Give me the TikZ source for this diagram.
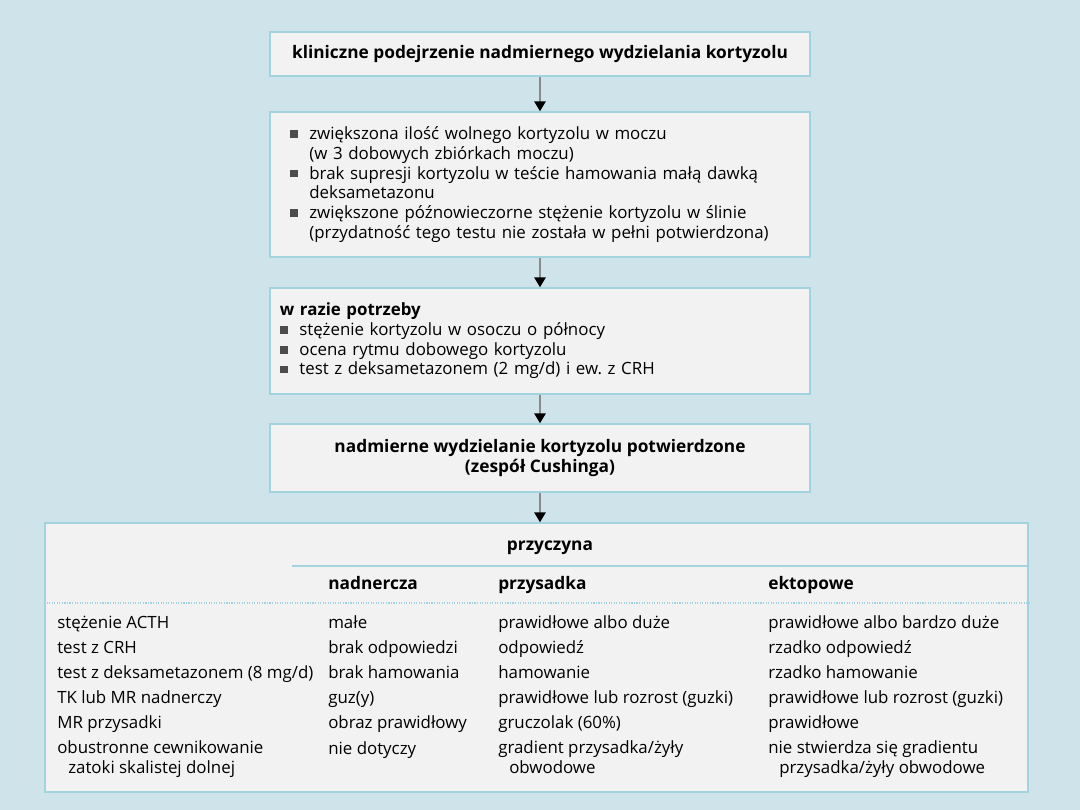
\documentclass[tikz,border=0pt]{standalone}
\usepackage{fontspec}
\setmainfont{Open Sans}
\usepackage{xcolor}
\usetikzlibrary{arrows.meta, positioning}

\definecolor{bgblue}{HTML}{CFE3EA}
\definecolor{boxfill}{HTML}{F2F2F2}
\definecolor{boxline}{HTML}{A3D3DF}
\definecolor{arrgray}{HTML}{8A8A8A}

\newcommand{\sqbul}{\makebox[1.15em][l]{\textcolor{black!70}{\rule[0.1em]{0.45em}{0.45em}}}}
\newcommand{\contind}{\hspace*{1.15em}}

\begin{document}
\begin{tikzpicture}[
    x=0.025cm, y=-0.025cm,
    every node/.style={font=\fontsize{12}{14}\selectfont},
    bfont/.style={font=\fontsize{12.3}{14}\selectfont\bfseries},
    flowbox/.style={draw=boxline, line width=1pt, fill=boxfill, minimum width=13.5cm, inner sep=0pt},
    link/.style={draw=arrgray, line width=1.3pt, -{Triangle[length=7pt, width=8pt, color=black]}},
    cell/.style={anchor=base west, inner sep=0pt, align=left},
    hcell/.style={cell, bfont}
]
% background
\fill[bgblue] (0,0) rectangle (1080,810);

% flow boxes
\node[flowbox, minimum height=1.1cm, bfont] (susp) at (540,54)
  {kliniczne podejrzenie nadmiernego wydzielania kortyzolu};
\node[flowbox, minimum height=3.625cm, text width=12.5cm, inner xsep=0.5cm, align=left] (screen) at (540,184.5)
  {\sqbul zwiększona ilość wolnego kortyzolu w moczu\\
   \contind(w 3 dobowych zbiórkach moczu)\\
   \sqbul brak supresji kortyzolu w teście hamowania małą dawką\\
   \contind deksametazonu\\
   \sqbul zwiększone późnowieczorne stężenie kortyzolu w ślinie\\
   \contind(przydatność tego testu nie została w pełni potwierdzona)};
\node[flowbox, minimum height=2.65cm, text width=13cm, inner xsep=0.25cm, align=left] (extra) at (540,341)
  {\textbf{w razie potrzeby}\\
   \sqbul stężenie kortyzolu w osoczu o północy\\
   \sqbul ocena rytmu dobowego kortyzolu\\
   \sqbul test z deksametazonem (2 mg/d) i ew.\ z CRH};
\node[flowbox, minimum height=1.7cm, align=center, bfont] (conf) at (540,458)
  {nadmierne wydzielanie kortyzolu potwierdzone\\(zespół Cushinga)};

% table frame
\node[flowbox, minimum width=24.575cm, minimum height=6.725cm] (tab) at (536.5,657.5) {};
\draw[boxline, line width=2pt] (292,566) -- (tab.east |- 0,566);
\draw[boxline, line width=0.8pt, densely dotted] (tab.west |- 0,603) -- (tab.east |- 0,603);

% arrows
\draw[link] (susp) -- (screen);
\draw[link] (screen) -- (extra);
\draw[link] (extra) -- (conf);
\draw[link] (conf.south) -- (conf.south |- tab.north);

% table header
\node[bfont, inner sep=0pt] (cause) at (550,548) {przyczyna};
\node[hcell] (hadr) at (328,589) {nadnercza};
\node[hcell] (hpit) at (498,589) {przysadka};
\node[hcell] (hect) at (768,589) {ektopowe};

% table body
\foreach \y/\a/\b/\c/\d in {
  628/{stężenie ACTH}/{małe}/{prawidłowe albo duże}/{prawidłowe albo bardzo duże},
  653/{test z CRH}/{brak odpowiedzi}/{odpowiedź}/{rzadko odpowiedź},
  678/{test z deksametazonem (8 mg/d)}/{brak hamowania}/{hamowanie}/{rzadko hamowanie},
  703/{TK lub MR nadnerczy}/{guz(y)}/{prawidłowe lub rozrost (guzki)}/{prawidłowe lub rozrost (guzki)},
  728/{MR przysadki}/{obraz prawidłowy}/{gruczolak (60\%)}/{prawidłowe}}{
  \node[cell] at (57,\y) {\a};
  \node[cell] at (328,\y) {\b};
  \node[cell] at (498,\y) {\c};
  \node[cell] at (768,\y) {\d};
}
% last row: two lines, base at the second line
\node[cell] (ipss) at (57,773) {obustronne cewnikowanie\\\hspace*{0.65em}zatoki skalistej dolnej};
\node[cell] (ipssa) at (328,754) {nie dotyczy};
\node[cell] (ipssp) at (498,773) {gradient przysadka/żyły\\\hspace*{0.65em}obwodowe};
\node[cell] (ipsse) at (768,773) {nie stwierdza się gradientu\\\hspace*{0.65em}przysadka/żyły obwodowe};
\end{tikzpicture}
\end{document}
